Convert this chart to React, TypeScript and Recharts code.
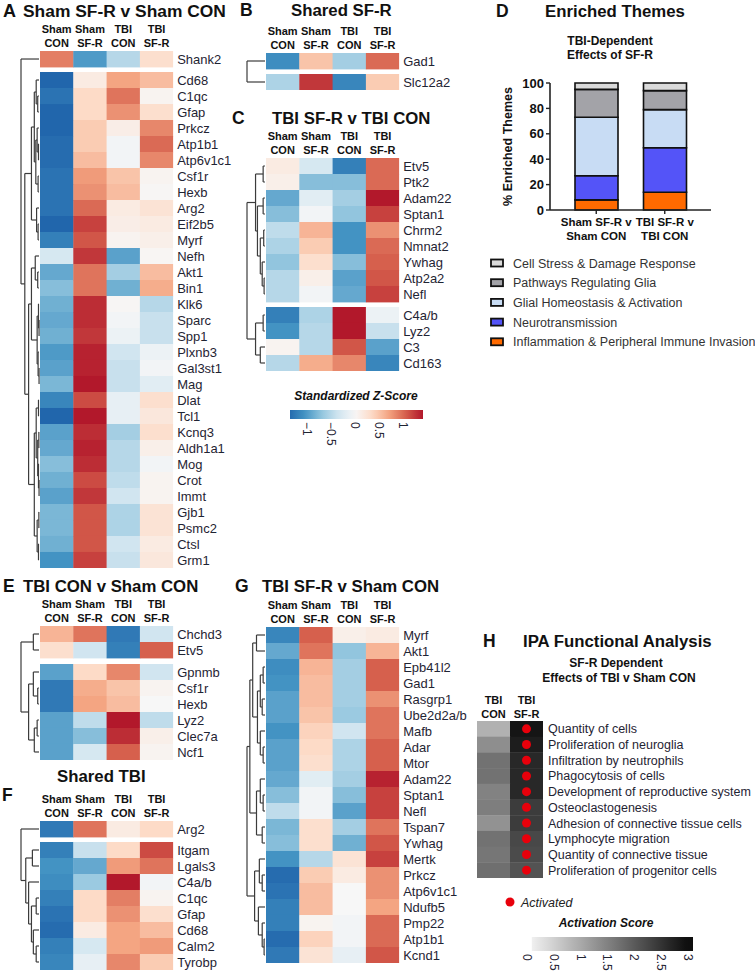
import React from 'react';
import {
  ScatterChart, Scatter, XAxis, YAxis, ReferenceLine, BarChart, Bar,
} from 'recharts';

type Tree = number | [number, Tree, Tree];

const FONT = '"Liberation Sans", Arial, Helvetica, sans-serif';
const LABEL_COLOR = '#1f2433';

const GROUP_HEADERS = [['Sham', 'CON'], ['Sham', 'SF-R'], ['TBI', 'CON'], ['TBI', 'SF-R']];

// ---------- Panel A: Sham SF-R v Sham CON ----------
const A_GENES = ['Shank2', 'Cd68', 'C1qc', 'Gfap', 'Prkcz', 'Atp1b1', 'Atp6v1c1', 'Csf1r', 'Hexb', 'Arg2', 'Eif2b5', 'Myrf', 'Nefh', 'Akt1', 'Bin1', 'Klk6', 'Sparc', 'Spp1', 'Plxnb3', 'Gal3st1', 'Mag', 'Dlat', 'Tcl1', 'Kcnq3', 'Aldh1a1', 'Mog', 'Crot', 'Immt', 'Gjb1', 'Psmc2', 'Ctsl', 'Grm1'];
const A_Z = [
  [0.9, -1.0, -0.5, 0.3],
  [-1.45, 0.15, 0.7, 0.55],
  [-1.3, 0.35, 0.95, 0.05],
  [-1.4, 0.35, 0.8, 0.3],
  [-1.4, 0.45, 0.12, 0.85],
  [-1.35, 0.45, -0.05, 1.0],
  [-1.35, 0.55, -0.05, 0.85],
  [-1.3, 0.75, 0.5, 0.05],
  [-1.3, 0.8, 0.55, 0.02],
  [-1.3, 1.0, 0.15, 0.25],
  [-1.4, 1.2, 0.12, 0.15],
  [-1.2, 1.1, 0.05, 0.1],
  [-0.3, 1.25, -0.95, 0.03],
  [-0.9, 0.95, -0.6, 0.55],
  [-0.75, 0.95, -0.85, 0.65],
  [-0.85, 1.3, 0.02, -0.5],
  [-0.9, 1.3, -0.05, -0.4],
  [-0.85, 1.25, -0.1, -0.4],
  [-1.0, 1.35, -0.35, -0.1],
  [-0.95, 1.35, -0.4, -0.05],
  [-0.8, 1.4, -0.4, -0.2],
  [-1.15, 1.15, -0.15, 0.3],
  [-1.4, 1.4, -0.15, 0.2],
  [-0.95, 1.3, -0.6, 0.3],
  [-0.9, 1.35, -0.5, 0.1],
  [-0.75, 1.3, -0.5, -0.05],
  [-0.85, 1.15, -0.45, 0.05],
  [-0.95, 1.25, -0.35, 0.05],
  [-0.8, 1.1, -0.55, 0.25],
  [-0.8, 1.1, -0.55, 0.25],
  [-0.85, 1.1, -0.35, 0.15],
  [-1.05, 1.2, -0.4, 0.2],
];
const A_BLOCKS = [1, 31];
const A_TREE: Tree = [1, 0,
  [0.8,
    [0.45, [0.3, [0.2, 1, [0.12, 2, 3]], [0.22, [0.15, 4, [0.08, 5, 6]], [0.1, 7, 8]]], [0.18, 9, [0.1, 10, 11]]],
    [0.6,
      [0.45, [0.25, 12, [0.12, 13, 14]], [0.15, [0.08, 15, [0.05, 16, 17]], [0.1, 18, [0.05, 19, 20]]]],
      [0.3, [0.2, [0.08, 21, 22], [0.12, [0.06, 23, 24], [0.08, 25, [0.05, 26, 27]]]], [0.15, [0.06, 28, 29], [0.08, 30, 31]]]]]];

// ---------- Panel B: Shared SF-R ----------
const B_GENES = ['Gad1', 'Slc12a2'];
const B_Z = [
  [-1.1, 0.5, -0.6, 1.0],
  [-0.55, 1.25, -1.15, 0.45],
];
const B_BLOCKS = [1, 1];
const B_TREE: Tree = [1, 0, 1];

// ---------- Panel C: TBI SF-R v TBI CON ----------
const C_GENES = ['Etv5', 'Ptk2', 'Adam22', 'Sptan1', 'Chrm2', 'Nmnat2', 'Ywhag', 'Atp2a2', 'Nefl', 'C4a/b', 'Lyz2', 'C3', 'Cd163'];
const C_Z = [
  [0.15, -0.3, -1.2, 1.0],
  [0.1, -0.75, -0.75, 1.0],
  [-0.9, -0.2, -0.6, 1.4],
  [-0.75, -0.05, -0.7, 1.2],
  [-0.45, 0.6, -1.05, 0.8],
  [-0.55, 0.45, -1.05, 1.0],
  [-0.7, 0.3, -0.75, 1.05],
  [-0.5, 0.1, -0.95, 1.1],
  [-0.5, -0.05, -0.9, 1.2],
  [-1.2, -0.55, 1.4, -0.1],
  [-1.05, -0.5, 1.4, -0.4],
  [0.05, -0.5, 1.1, -0.95],
  [-0.5, 0.65, 0.85, -1.15],
];
const C_BLOCKS = [9, 4];
const C_TREE: Tree = [1,
  [0.55, [0.15, 0, 1], [0.45, [0.15, 2, 3], [0.3, [0.12, 4, 5], [0.2, 6, [0.1, 7, 8]]]]],
  [0.55, [0.15, 9, 10], [0.3, 11, 12]]];

// ---------- Panel E: TBI CON v Sham CON ----------
const E_GENES = ['Chchd3', 'Etv5', 'Gpnmb', 'Csf1r', 'Hexb', 'Lyz2', 'Clec7a', 'Ncf1'];
const E_Z = [
  [0.6, 0.95, -1.25, -0.35],
  [0.3, -0.35, -1.2, 1.05],
  [-0.95, 0.35, 0.85, -0.35],
  [-1.25, 0.65, 0.5, 0.05],
  [-1.25, 0.7, 0.55, 0.0],
  [-0.95, -0.45, 1.4, -0.45],
  [-0.95, -0.75, 1.3, 0.1],
  [-0.95, -0.3, 1.05, 0.05],
];
const E_BLOCKS = [2, 6];
const E_TREE: Tree = [1, [0.35, 0, 1], [0.6, [0.35, 2, [0.12, 3, 4]], [0.3, [0.15, 5, 6], 7]]];

// ---------- Panel F: Shared TBI ----------
const F_GENES = ['Arg2', 'Itgam', 'Lgals3', 'C4a/b', 'C1qc', 'Gfap', 'Cd68', 'Calm2', 'Tyrobp'];
const F_Z = [
  [-1.25, 0.95, 0.15, 0.35],
  [-1.2, -0.4, 0.35, 1.15],
  [-1.05, -0.9, 0.75, 0.95],
  [-1.1, -0.65, 1.4, -0.05],
  [-1.2, 0.35, 0.9, 0.05],
  [-1.3, 0.35, 0.8, 0.3],
  [-1.35, 0.15, 0.7, 0.55],
  [-1.2, -0.3, 0.7, 0.75],
  [-1.15, -0.15, 0.85, 0.45],
];
const F_BLOCKS = [1, 8];
const F_TREE: Tree = [1, 0, [0.75, [0.4, 1, 2], [0.6, 3, [0.45, [0.2, 4, 5], [0.35, 6, [0.2, 7, 8]]]]]];

// ---------- Panel G: TBI SF-R v Sham CON ----------
const G_GENES = ['Myrf', 'Akt1', 'Epb41l2', 'Gad1', 'Rasgrp1', 'Ube2d2a/b', 'Mafb', 'Adar', 'Mtor', 'Adam22', 'Sptan1', 'Nefl', 'Tspan7', 'Ywhag', 'Mertk', 'Prkcz', 'Atp6v1c1', 'Ndufb5', 'Pmp22', 'Atp1b1', 'Kcnd1'];
const G_Z = [
  [-1.15, 1.05, 0.1, 0.15],
  [-0.9, 0.95, -0.7, 0.6],
  [-1.1, 0.6, -0.6, 1.05],
  [-1.05, 0.55, -0.6, 1.05],
  [-0.95, 0.55, -0.6, 0.8],
  [-0.95, 0.5, -0.65, 0.95],
  [-1.05, 0.4, -0.35, 0.95],
  [-0.95, 0.35, -0.55, 1.05],
  [-0.95, 0.3, -0.55, 1.05],
  [-0.9, -0.2, -0.6, 1.35],
  [-0.75, -0.05, -0.75, 1.2],
  [-0.45, -0.05, -0.95, 1.2],
  [-0.8, 0.3, -0.6, 0.95],
  [-0.75, 0.3, -0.85, 1.1],
  [-1.05, -0.5, 0.25, 1.2],
  [-1.35, 0.45, 0.15, 0.8],
  [-1.3, 0.55, 0.0, 0.8],
  [-1.2, 0.55, 0.0, 0.7],
  [-1.2, 0.05, -0.05, 1.0],
  [-1.35, 0.4, -0.05, 1.0],
  [-1.25, 0.25, -0.15, 1.1],
];
const G_BLOCKS = [21];
const G_TREE: Tree = [1,
  [0.85,
    [0.7, [0.5, 0, 1], [0.45, [0.3, [0.15, 2, 3], [0.2, 4, 5]], [0.3, 6, [0.15, 7, 8]]]],
    [0.5, [0.3, 9, [0.15, 10, 11]], [0.2, 12, 13]]],
  [0.6, [0.35, 14, [0.2, 15, 16]], [0.4, 17, [0.2, 18, [0.1, 19, 20]]]]];

// ---------- Panel D: Enriched themes (stacked %) ----------
const D_CATS = [['Sham SF-R v', 'Sham CON'], ['TBI SF-R v', 'TBI CON']];
const D_INFLAM = [8, 14];
const D_NEURO = [19, 35];
const D_GLIAL = [46, 30];
const D_PATHWAYS = [22, 15];
const D_STRESS = [5, 6];
const D_SERIES = [
  { key: 'stress', name: 'Cell Stress & Damage Response', color: '#dadada' },
  { key: 'path', name: 'Pathways Regulating Glia', color: '#a3a3a8' },
  { key: 'glial', name: 'Glial Homeostasis & Activation', color: '#c8dcf4' },
  { key: 'neuro', name: 'Neurotransmission', color: '#5454f8' },
  { key: 'inflam', name: 'Inflammation & Peripheral Immune Invasion', color: '#ff6a00' },
];
const D_Y_TICKS = [0, 20, 40, 60, 80, 100];

// ---------- Panel H: IPA functional analysis ----------
const H_TERMS = ['Quantity of cells', 'Proliferation of neuroglia', 'Infiltration by neutrophils', 'Phagocytosis of cells', 'Development of reproductive system', 'Osteoclastogenesis', 'Adhesion of connective tissue cells', 'Lymphocyte migration', 'Quantity of connective tissue', 'Proliferation of progenitor cells'];
const H_TBI_CON = [0.9, 1.35, 1.7, 1.7, 1.5, 1.55, 1.3, 1.7, 1.65, 1.75];
const H_TBI_SFR = [2.9, 2.8, 2.65, 2.65, 2.65, 2.4, 2.4, 2.25, 2.2, 2.1];
const H_ACTIVATED = [true, true, true, true, true, true, true, true, true, true];
const H_HEADERS = [['TBI', 'CON'], ['TBI', 'SF-R']];

const Z_TICKS = [-1, -0.5, 0, 0.5, 1];
const ACT_TICKS = [0, 0.5, 1, 1.5, 2, 2.5, 3];

// ---------- colour scales ----------
const RDBU = ['#2166ac', '#4393c3', '#92c5de', '#d1e5f0', '#f7f7f7', '#fddbc7', '#f4a582', '#d6604d', '#b2182b'];
const hex = (h: string) => [1, 3, 5].map((i) => parseInt(h.slice(i, i + 2), 16));
function zColor(v: number) {
  const t = Math.max(0, Math.min(1, (v + 1.4) / 2.8)) * (RDBU.length - 1);
  const i = Math.min(RDBU.length - 2, Math.floor(t));
  const f = t - i;
  const a = hex(RDBU[i]), b = hex(RDBU[i + 1]);
  const c = a.map((x, k) => Math.round(x + (b[k] - x) * f));
  return `rgb(${c[0]},${c[1]},${c[2]})`;
}
function grayColor(v: number) {
  const t = Math.max(0, Math.min(1, v / 3));
  const g = Math.round(247 - t * 234);
  return `rgb(${g},${g},${g})`;
}

function dendroSegments(tree: Tree, pos: number[], scale: number) {
  const segs: number[][] = [];
  const walk = (t: Tree): { y: number; x: number } => {
    if (typeof t === 'number') return { y: pos[t], x: -0.03 };
    const [h, a, b] = t;
    const A = walk(a), B = walk(b);
    const x = -h * scale;
    segs.push([x, A.y, x, B.y]);
    segs.push([x, A.y, A.x, A.y]);
    segs.push([x, B.y, B.x, B.y]);
    return { y: (A.y + B.y) / 2, x };
  };
  walk(tree);
  return segs;
}

type HeatProps = {
  left: number; top: number; genes: string[]; z: number[][]; blocks: number[]; tree?: Tree;
  headers: string[][]; color: (v: number) => string; dots?: boolean[];
  colW?: number; rowH?: number; gap?: number; dendroW?: number; labelW?: number; labelSize?: number; labelMargin?: number;
};

function Heatmap(p: HeatProps) {
  const HEAD = 32;
  const colW = p.colW ?? 33.3, rowH = p.rowH ?? 16, gap = p.gap ?? 5, dendroW = p.dendroW ?? 20, labelW = p.labelW ?? 80;
  const nCol = p.z[0].length;
  const gapU = gap / rowH;
  const pos: number[] = [];
  let k = 0;
  p.blocks.forEach((n, b) => { for (let i = 0; i < n; i++) { pos.push(k + b * gapU); k++; } });
  const yMax = pos[pos.length - 1] + 0.5;
  const dU = dendroW / colW;
  const plotW = dendroW + nCol * colW;
  const plotH = (yMax + 0.5) * rowH;
  const cells: any[] = [];
  p.z.forEach((row, i) => row.forEach((v, c) => cells.push({ x: c + 0.5, y: pos[i], v, col: c, row: i })));
  const segs = p.tree !== undefined ? dendroSegments(p.tree, pos, dU * 0.95) : [];
  const labelOf = (v: number) => {
    let best = 0;
    pos.forEach((q, i) => { if (Math.abs(q - v) < Math.abs(pos[best] - v)) best = i; });
    return p.genes[best];
  };
  const colTicks = Array.from({ length: nCol }, (_, c) => c + 0.5);
  const headerTick = (props: any) => {
    const { x, y, payload } = props;
    const lines = p.headers[Math.floor(payload.value)];
    return (
      <text x={x} y={y} textAnchor="middle" fontSize={11} fontWeight="bold" fill="#111">
        <tspan x={x} dy={-17.5}>{lines[0]}</tspan>
        <tspan x={x} dy={14}>{lines[1]}</tspan>
      </text>
    );
  };
  const rowTick = (props: any) => {
    const { x, y, payload } = props;
    return (
      <text x={x} y={y} dy="0.36em" textAnchor="start" fontSize={p.labelSize ?? 13} fill={LABEL_COLOR}>{labelOf(payload.value)}</text>
    );
  };
  const cellShape = (props: any) => {
    const { cx, cy, payload } = props;
    return (
      <g>
        <rect x={cx - colW / 2} y={cy - rowH / 2} width={colW + 0.4} height={rowH + 0.4} fill={p.color(payload.v)} />
        {p.dots && payload.col === nCol - 1 && p.dots[payload.row] ? <circle cx={cx} cy={cy} r={4.5} fill="#e8000b" /> : null}
      </g>
    );
  };
  return (
    <div style={{ position: 'absolute', left: p.left - dendroW, top: p.top - HEAD }}>
      <ScatterChart width={plotW + labelW} height={plotH + HEAD} margin={{ top: 0, right: 0, bottom: 0, left: 0 }}>
        <XAxis type="number" dataKey="x" orientation="top" domain={[-dU, nCol]} ticks={colTicks} interval={0}
          height={HEAD} axisLine={false} tickLine={false} tickSize={0} tickMargin={0} tick={headerTick} allowDataOverflow />
        <YAxis type="number" dataKey="y" orientation="right" reversed domain={[-0.5, yMax]} ticks={pos} interval={0}
          width={labelW} axisLine={false} tickLine={false} tickSize={0} tickMargin={p.labelMargin ?? 4}
          tick={rowTick} allowDataOverflow />
        <Scatter data={cells} shape={cellShape} isAnimationActive={false} />
        {segs.map((s, i) => (
          <ReferenceLine key={i} segment={[{ x: s[0], y: s[1] }, { x: s[2], y: s[3] }]} stroke="#3c3c3c" strokeWidth={1.2} ifOverflow="visible" />
        ))}
      </ScatterChart>
    </div>
  );
}

type BarProps = {
  left: number; top: number; width: number; barH: number; domain: number[]; from: number; to: number;
  ticks: number[]; color: (v: number) => string; id: string;
};
function ColorBar(p: BarProps) {
  const PAD = 10;
  const stops = Array.from({ length: 21 }, (_, i) => p.from + ((p.to - p.from) * i) / 20);
  const pxPerUnit = p.width / (p.domain[1] - p.domain[0]);
  const barW = (p.to - p.from) * pxPerUnit;
  const tick = (props: any) => {
    const { x, y, payload } = props;
    const v = payload.value as number;
    const s = v < 0 ? `\u2212${Math.abs(v)}` : `${v}`;
    return (
      <text x={x} y={y} transform={`rotate(90 ${x} ${y})`} textAnchor="start" dominantBaseline="central" fontSize={12} fill="#1f2433">{s}</text>
    );
  };
  const barShape = (props: any) => {
    const { cx, cy } = props;
    return (
      <g>
        <defs>
          <linearGradient id={p.id} x1="0" y1="0" x2="1" y2="0">
            {stops.map((v, i) => <stop key={i} offset={`${i * 5}%`} stopColor={p.color(v)} />)}
          </linearGradient>
        </defs>
        <rect x={cx - barW / 2} y={cy - p.barH / 2} width={barW} height={p.barH} fill={`url(#${p.id})`} />
      </g>
    );
  };
  return (
    <div style={{ position: 'absolute', left: p.left - PAD, top: p.top }}>
      <ScatterChart width={p.width + 2 * PAD} height={p.barH + 40} margin={{ top: 0, right: PAD, bottom: 0, left: PAD }}>
        <XAxis type="number" dataKey="x" domain={p.domain} ticks={p.ticks} interval={0} height={40}
          axisLine={false} tickLine={false} tickSize={0} tickMargin={3} tick={tick} allowDataOverflow />
        <YAxis type="number" dataKey="y" hide domain={[0, 1]} />
        <Scatter data={[{ x: (p.from + p.to) / 2, y: 0.5 }]} shape={barShape} isAnimationActive={false} />
      </ScatterChart>
    </div>
  );
}

function ThemesChart() {
  const data = D_CATS.map((c, i) => ({
    name: c.join(' '), inflam: D_INFLAM[i], neuro: D_NEURO[i], glial: D_GLIAL[i], path: D_PATHWAYS[i], stress: D_STRESS[i],
  }));
  const names = data.map((d) => d.name);
  const xTick = (props: any) => {
    const { x, y, payload } = props;
    const lines = D_CATS[names.indexOf(payload.value)];
    return (
      <text x={x} y={y} textAnchor="middle" fontSize={11.5} fontWeight="bold" fill="#111">
        <tspan x={x} dy={10}>{lines[0]}</tspan>
        <tspan x={x} dy={13.5}>{lines[1]}</tspan>
      </text>
    );
  };
  const stackOrder = [...D_SERIES].reverse();
  return (
    <div style={{ position: 'absolute', left: 490, top: 73 }}>
      <BarChart width={221} height={185} data={data} margin={{ top: 10, right: 0, bottom: 8, left: 0 }} barCategoryGap={0}>
        <XAxis dataKey="name" padding={{ left: 12, right: 12 }} height={40} tick={xTick} tickSize={4} tickMargin={2}
          stroke="#222" axisLine={{ stroke: '#222', strokeWidth: 1.6 }} tickLine={{ stroke: '#222', strokeWidth: 1.4 }} interval={0} />
        <YAxis domain={[0, 100]} ticks={D_Y_TICKS} width={60} tickSize={4} tickMargin={2} interval={0}
          axisLine={{ stroke: '#222', strokeWidth: 1.6 }} tickLine={{ stroke: '#222', strokeWidth: 1.4 }}
          tick={{ fontSize: 13, fontWeight: 'bold', fill: '#111' }}
          label={{ value: '% Enriched Themes', angle: -90, position: 'center', dx: -12, style: { fontSize: 12.5, fontWeight: 'bold', fill: '#111' } }} />
        {stackOrder.map((s) => (
          <Bar key={s.key} dataKey={s.key} stackId="a" fill={s.color} stroke="#111" strokeWidth={1.6} barSize={43} isAnimationActive={false} />
        ))}
      </BarChart>
    </div>
  );
}

function Overlay() {
  const T = (x: number, y: number, s: string, size = 16.8, extra: any = {}) => (
    <text x={x} y={y} fontSize={size} fontWeight="bold" fill="#111" {...extra}>{s}</text>
  );
  return (
    <svg width={755} height={977} style={{ position: 'absolute', left: 0, top: 0, pointerEvents: 'none' }}>
      {T(3, 17, 'A', 18)}{T(23, 17, 'Sham SF-R v Sham CON', 17.4)}
      {T(240, 16, 'B', 17.5)}{T(291, 16, 'Shared SF-R')}
      {T(232, 124, 'C', 17.5)}{T(272, 124, 'TBI SF-R v TBI CON')}
      {T(496, 17, 'D', 17.5)}{T(545, 17, 'Enriched Themes')}
      {T(610, 45, 'TBI-Dependent', 12, { textAnchor: 'middle' })}
      {T(610, 59, 'Effects of SF-R', 12, { textAnchor: 'middle' })}
      {T(3, 592, 'E', 17.5)}{T(23, 592, 'TBI CON v Sham CON')}
      {T(235, 592, 'G', 17.5)}{T(262, 592, 'TBI SF-R v Sham CON')}
      {T(57, 781.5, 'Shared TBI')}{T(2, 800.5, 'F', 17.5)}
      {T(483, 646.5, 'H', 17.5)}{T(523, 646.5, 'IPA Functional Analysis')}
      {T(616, 666.5, 'SF-R Dependent', 12, { textAnchor: 'middle' })}
      {T(619, 681.5, 'Effects of TBI v Sham CON', 12, { textAnchor: 'middle' })}
      {T(356, 400, 'Standardized Z-Score', 12, { textAnchor: 'middle', fontStyle: 'italic' })}
      {T(606, 926.5, 'Activation Score', 12, { textAnchor: 'middle', fontStyle: 'italic' })}
      <circle cx={510} cy={902} r={4.5} fill="#e8000b" />
      <text x={521} y={906.5} fontSize={12.5} fontStyle="italic" fill="#222">Activated</text>
      {D_SERIES.map((s, i) => (
        <g key={s.key}>
          <rect x={491} y={259.5 + i * 19.7} width={12} height={7} fill={s.color} stroke="#111" strokeWidth={1.8} />
          <text x={513} y={267.5 + i * 19.7} fontSize={12.5} fill="#333">{s.name}</text>
        </g>
      ))}
    </svg>
  );
}

export default function App() {
  const hz = H_TERMS.map((_, i) => [H_TBI_CON[i], H_TBI_SFR[i]]);
  return (
    <div style={{ position: 'absolute', left: 0, top: 0, width: 755, height: 977, background: '#fff', fontFamily: FONT, overflow: 'hidden' }}>
      <Heatmap left={40} top={51} genes={A_GENES} z={A_Z} blocks={A_BLOCKS} tree={A_TREE} headers={GROUP_HEADERS} color={zColor} labelW={80} />
      <Heatmap left={266} top={53} genes={B_GENES} z={B_Z} blocks={B_BLOCKS} tree={B_TREE} headers={GROUP_HEADERS} color={zColor} labelW={80} />
      <Heatmap left={265.5} top={158} genes={C_GENES} z={C_Z} blocks={C_BLOCKS} tree={C_TREE} headers={GROUP_HEADERS} color={zColor} labelW={80} />
      <Heatmap left={40} top={626} genes={E_GENES} z={E_Z} blocks={E_BLOCKS} tree={E_TREE} headers={GROUP_HEADERS} color={zColor} gap={6} labelW={80} />
      <Heatmap left={40} top={820.5} genes={F_GENES} z={F_Z} blocks={F_BLOCKS} tree={F_TREE} headers={GROUP_HEADERS} color={zColor} labelW={80} />
      <Heatmap left={266} top={627} genes={G_GENES} z={G_Z} blocks={G_BLOCKS} tree={G_TREE} headers={GROUP_HEADERS} color={zColor} labelW={90} />
      <Heatmap left={477} top={721} genes={H_TERMS} z={hz} blocks={[10]} headers={H_HEADERS} color={grayColor} dots={H_ACTIVATED}
        colW={33} rowH={15.7} dendroW={0} labelW={212} labelSize={12.5} labelMargin={5} />
      <ThemesChart />
      <ColorBar left={290} top={410} width={133} barH={9} domain={[-1.354, 1.417]} from={-1.354} to={1.417} ticks={Z_TICKS} color={zColor} id="zgrad" />
      <ColorBar left={527} top={937} width={166} barH={14} domain={[0, 3.1]} from={0.09} to={3.1} ticks={ACT_TICKS} color={grayColor} id="agrad" />
      <Overlay />
    </div>
  );
}
